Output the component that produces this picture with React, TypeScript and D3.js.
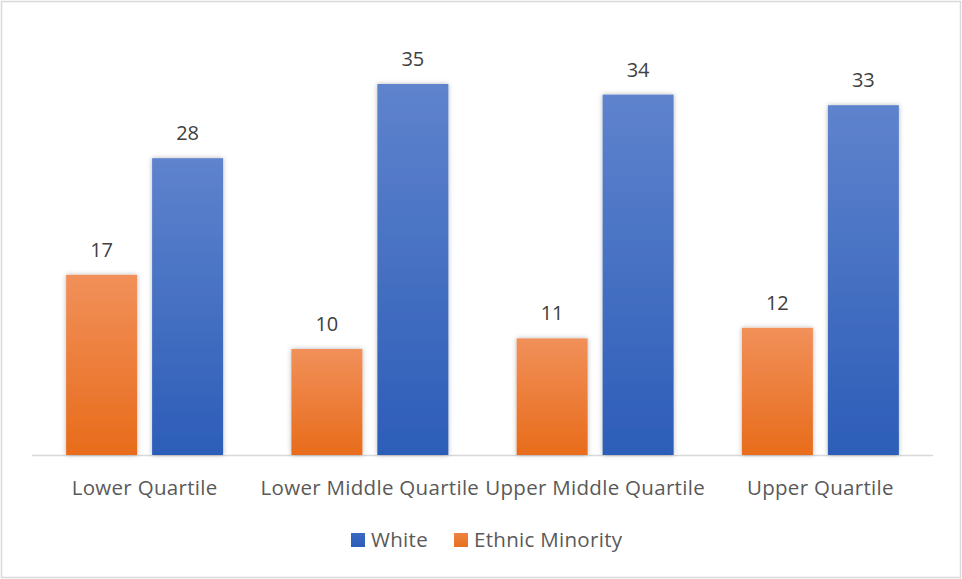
import React from "react";
import * as d3 from "d3";

const categories = ["Lower Quartile", "Lower Middle Quartile", "Upper Middle Quartile", "Upper Quartile"];
const ethnicMinority = [17, 10, 11, 12];
const white = [28, 35, 34, 33];
const seriesNames = ["Ethnic Minority", "White"];
const legendOrder = ["White", "Ethnic Minority"];

const W = 962;
const H = 579;
const FONT = "'Open Sans', sans-serif";

export default function App() {
  const x0 = d3.scaleBand<string>().domain(categories).range([32, 933]).paddingInner(0.303).paddingOuter(0.1515);
  const x1 = d3.scaleBand<string>().domain(seriesNames).range([0, x0.bandwidth()]).paddingInner(0.174).paddingOuter(0);
  const y = d3.scaleLinear().domain([0, 40]).range([455, 31]);
  const values: Record<string, number[]> = { "Ethnic Minority": ethnicMinority, White: white };
  const grad: Record<string, string> = { "Ethnic Minority": "url(#gOrange)", White: "url(#gBlue)" };
  const legendFill: Record<string, string> = { "Ethnic Minority": "url(#gOrangeL)", White: "url(#gBlueL)" };

  return (
    <svg width={W} height={H} style={{ position: "absolute", left: 0, top: 0, background: "#fff" }}>
      <defs>
        <linearGradient id="gOrange" x1="0" y1="0" x2="0" y2="1">
          <stop offset="0" stopColor="#F1905A" />
          <stop offset="1" stopColor="#E86C1B" />
        </linearGradient>
        <linearGradient id="gBlue" x1="0" y1="0" x2="0" y2="1">
          <stop offset="0" stopColor="#5F83CD" />
          <stop offset="1" stopColor="#2C5DB8" />
        </linearGradient>
        <linearGradient id="gOrangeL" x1="0" y1="0" x2="0" y2="1">
          <stop offset="0" stopColor="#EE8440" />
          <stop offset="1" stopColor="#E8701F" />
        </linearGradient>
        <linearGradient id="gBlueL" x1="0" y1="0" x2="0" y2="1">
          <stop offset="0" stopColor="#3A68C2" />
          <stop offset="1" stopColor="#2C5DB8" />
        </linearGradient>
        <filter id="shadow" x="-20%" y="-10%" width="140%" height="120%">
          <feDropShadow dx="0" dy="0" stdDeviation="2.5" floodColor="#000" floodOpacity="0.28" />
        </filter>
      </defs>
      <rect x={1.5} y={1.5} width={W - 3} height={H - 3} fill="#fff" stroke="#D9D9D9" strokeWidth={1.5} />
      <line x1={32} x2={933} y1={455.5} y2={455.5} stroke="#D9D9D9" strokeWidth={1.5} />
      {categories.map((c, i) => (
        <g key={c} transform={`translate(${x0(c)},0)`}>
          {seriesNames.map((s) => {
            const v = values[s][i];
            const bx = x1(s) as number;
            return (
              <g key={s}>
                <rect x={bx} y={y(v)} width={x1.bandwidth()} height={y(0) - y(v)} fill={grad[s]} filter="url(#shadow)" />
                <text x={bx + x1.bandwidth() / 2} y={y(v) - 18} textAnchor="middle" fontFamily={FONT} fontSize={20} fill="#404040">
                  {v}
                </text>
              </g>
            );
          })}
          <text x={x0.bandwidth() / 2} y={495} textAnchor="middle" fontFamily={FONT} fontSize={20.5} letterSpacing={0.3} fill="#595959">
            {c}
          </text>
        </g>
      ))}
      {(() => {
        const items = [
          { name: legendOrder[0], sx: 351, tx: 371 },
          { name: legendOrder[1], sx: 454, tx: 474 },
        ];
        return items.map((it) => (
          <g key={it.name}>
            <rect x={it.sx} y={533} width={14} height={14} fill={legendFill[it.name]} />
            <text x={it.tx} y={547} fontFamily={FONT} fontSize={20.5} letterSpacing={0.3} fill="#595959">
              {it.name}
            </text>
          </g>
        ));
      })()}
    </svg>
  );
}
